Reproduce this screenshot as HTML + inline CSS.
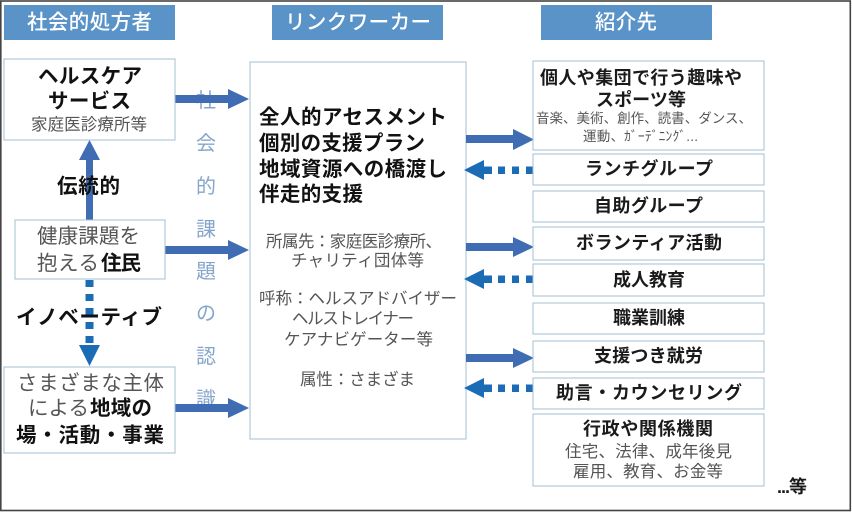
<!DOCTYPE html>
<html lang="ja"><head><meta charset="utf-8">
<style>
html,body{margin:0;padding:0;background:#fff;width:852px;height:512px;overflow:hidden}
svg{display:block;filter:blur(0.3px)}
text{font-family:"Liberation Sans","Noto Sans CJK JP",sans-serif}
.h{fill:#fff;font-size:20.5px;font-weight:500}
.b{fill:#111;font-weight:700;font-size:20.5px}
.g{fill:#555;font-size:20.5px}
.s{fill:#555;font-size:16.500px}
.r{fill:#1a1a1a;font-weight:700;font-size:18px}
.v{fill:#86a5ca;font-size:20px;text-anchor:middle}
.box{fill:#fff;stroke:#a3bfd3;stroke-width:1}
.ar{fill:#3f6cb3}
.dt{fill:#1b6cb5}
</style></head><body>
<svg width="852" height="512" viewBox="0 0 852 512" xmlns="http://www.w3.org/2000/svg">
<rect x="0.8" y="1" width="849.5" height="509.5" fill="#fff" stroke="#444" stroke-width="1.6"/>

<rect x="4" y="5" width="171" height="35" fill="#5a93c8"/>
<rect x="272" y="5" width="171" height="35" fill="#5a93c8"/>
<rect x="541" y="5" width="171" height="35" fill="#5a93c8"/>
<text class="h" x="27" y="29" textLength="125">社会的処方者</text>
<text class="h" x="285" y="29" textLength="146">リンクワーカー</text>
<text class="h" x="595" y="29" textLength="62">紹介先</text>

<text class="v" x="206" y="107">社</text>
<text class="v" x="206" y="150">会</text>
<text class="v" x="206" y="193">的</text>
<text class="v" x="206" y="236">課</text>
<text class="v" x="206" y="278">題</text>
<text class="v" x="206" y="320">の</text>
<text class="v" x="206" y="363">認</text>
<text class="v" x="206" y="406">識</text>

<!-- left column arrows -->
<polygon class="ar" points="86,221 93,221 93,160 100,160 89.500,140 79,160 86,160"/>
<rect class="dt" x="85.500" y="280" width="8" height="7"/>
<rect class="dt" x="85.500" y="294" width="8" height="7"/>
<rect class="dt" x="85.500" y="308" width="8" height="7"/>
<rect class="dt" x="85.500" y="322" width="8" height="7"/>
<rect class="dt" x="85.500" y="336" width="8" height="7"/>
<polygon class="dt" points="79,345 100,345 89.500,366"/>

<polygon class="ar" points="175,95 228,95 228,89 249,99 228,109 228,103 175,103"/>
<polygon class="ar" points="165,246 228,246 228,240 249,250 228,260 228,254 165,254"/>
<polygon class="ar" points="175,404 228,404 228,398 249,408 228,418 228,412 175,412"/>

<!-- left boxes -->
<rect class="box" x="4" y="59" width="171" height="81"/>
<text class="b" x="38" y="83" textLength="104">ヘルスケア</text>
<text class="b" x="48" y="108" textLength="83">サービス</text>
<text class="s" x="31" y="130" textLength="116">家庭医診療所等</text>

<rect class="box" x="15" y="220" width="150" height="59"/>
<text class="g" x="37" y="243" textLength="103">健康課題を</text>
<text class="g" x="37" y="270" textLength="62">抱える</text>
<text class="b" x="101" y="270" textLength="40">住民</text>

<rect class="box" x="4" y="367" width="171" height="86"/>
<text class="g" x="17" y="390" textLength="147">さまざまな主体</text>
<text class="g" x="28" y="415" textLength="61">による</text>
<text class="b" x="90" y="415" textLength="62">地域の</text>
<text class="b" x="16" y="442" textLength="148">場・活動・事業</text>

<text class="b" x="57" y="193" textLength="63">伝統的</text>
<text class="b" x="16" y="324" textLength="146">イノベーティブ</text>

<!-- link worker -->
<rect class="box" x="250" y="62" width="216" height="377"/>
<text class="b" x="259" y="124" textLength="188">全人的アセスメント</text>
<text class="b" x="259" y="150" textLength="166">個別の支援プラン</text>
<text class="b" x="259" y="176" textLength="188">地域資源への橋渡し</text>
<text class="b" x="259" y="201" textLength="104">伴走的支援</text>
<text class="s" x="266" y="247" textLength="176">所属先：家庭医診療所、</text>
<text class="s" x="291" y="266" textLength="133">チャリティ団体等</text>
<text class="s" x="259" y="304" textLength="198">呼称：ヘルスアドバイザー</text>
<text class="s" x="292" y="324" textLength="122">ヘルストレイナー</text>
<text class="s" x="284" y="345" textLength="149">ケアナビゲーター等</text>
<text class="s" x="300" y="385" textLength="115">属性：さまざま</text>

<!-- right arrows -->
<polygon class="ar" points="466,135 513,135 513,129 534,139.500 513,150 513,143 466,143"/>
<polygon class="ar" points="466,243 513,243 513,237 534,247 513,257 513,251 466,251"/>
<polygon class="ar" points="466,354 513,354 513,348 534,358 513,368 513,362 466,362"/>

<polygon class="dt" points="464,170 484,160 484,180"/>
<rect class="dt" x="484" y="166.500" width="8" height="7.500"/><rect class="dt" x="498" y="166.500" width="7" height="7.500"/><rect class="dt" x="512" y="166.500" width="7" height="7.500"/><rect class="dt" x="526" y="166.500" width="7" height="7.500"/>
<polygon class="dt" points="464,279 484,269 484,289"/>
<rect class="dt" x="484" y="275.500" width="8" height="7.500"/><rect class="dt" x="498" y="275.500" width="7" height="7.500"/><rect class="dt" x="512" y="275.500" width="7" height="7.500"/><rect class="dt" x="526" y="275.500" width="7" height="7.500"/>
<polygon class="dt" points="464,388 484,378 484,398"/>
<rect class="dt" x="484" y="384.500" width="8" height="7.500"/><rect class="dt" x="498" y="384.500" width="7" height="7.500"/><rect class="dt" x="512" y="384.500" width="7" height="7.500"/><rect class="dt" x="526" y="384.500" width="7" height="7.500"/>

<!-- right boxes -->
<rect class="box" x="533" y="61" width="231" height="89"/>
<rect class="box" x="533" y="154" width="231" height="31"/>
<rect class="box" x="533" y="191" width="231" height="31"/>
<rect class="box" x="533" y="227" width="231" height="33"/>
<rect class="box" x="533" y="264" width="231" height="32"/>
<rect class="box" x="533" y="303" width="231" height="31"/>
<rect class="box" x="533" y="341" width="231" height="31"/>
<rect class="box" x="533" y="378" width="231" height="31"/>
<rect class="box" x="533" y="414" width="231" height="72"/>

<text class="r" x="540" y="84" textLength="202">個人や集団で行う趣味や</text>
<text class="r" x="596" y="106" textLength="90">スポーツ等</text>
<text x="536" y="123" textLength="216" style="fill:#555;font-size:13.500px">音楽、美術、創作、読書、ダンス、</text>
<text x="583" y="141" textLength="115" style="fill:#555;font-size:13.500px">運動、ｶﾞｰﾃﾞﾆﾝｸﾞ...</text>
<text class="r" x="585" y="175" textLength="128">ランチグループ</text>
<text class="r" x="594" y="212" textLength="109">自助グループ</text>
<text class="r" x="576" y="249" textLength="146">ボランティア活動</text>
<text class="r" x="613" y="286" textLength="72">成人教育</text>
<text class="r" x="613" y="324" textLength="72">職業訓練</text>
<text class="r" x="594" y="362" textLength="109">支援つき就労</text>
<text class="r" x="556" y="399" textLength="186">助言・カウンセリング</text>
<text class="r" x="583" y="435" textLength="130">行政や関係機関</text>
<text class="s" x="565" y="457" textLength="167">住宅、法律、成年後見</text>
<text class="s" x="573" y="477" textLength="150">雇用、教育、お金等</text>
<text x="777" y="493" textLength="30" style="fill:#1a1a1a;font-weight:700;font-size:18px">...等</text>
</svg>
</body></html>
